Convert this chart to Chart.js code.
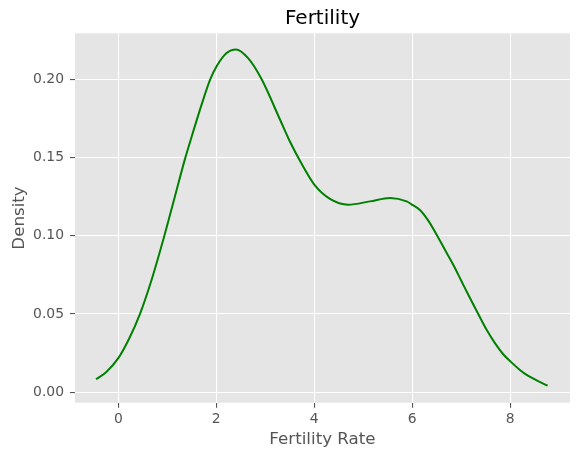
<!DOCTYPE html>
<html>
<head>
<meta charset="utf-8">
<script src="https://cdn.jsdelivr.net/npm/chart.js@4"></script>
<style>
  body { margin: 0; background: #fff; }
</style>
</head>
<body>
<canvas id="kdeChart" width="580" height="460"></canvas>
<script>
// KDE curve
const fertilityRate = [-0.455, -0.25, 0, 0.22, 0.443, 0.68, 0.94, 1.15, 1.36, 1.53, 1.70, 1.87, 2.01, 2.21, 2.40, 2.65, 2.926, 3.30, 3.50, 3.75, 4.0, 4.32, 4.694, 5.137, 5.545, 5.886, 6.0, 6.157, 6.327, 6.498, 6.667, 6.837, 7.008, 7.178, 7.347, 7.518, 7.688, 7.857, 8.008, 8.198, 8.335, 8.763];
const density = [0.0083, 0.0128, 0.0218, 0.0342, 0.0501, 0.0719, 0.100, 0.1245, 0.149, 0.1667, 0.1838, 0.1995, 0.2085, 0.2168, 0.2191, 0.2135, 0.200, 0.1743, 0.1604, 0.1455, 0.1327, 0.1236, 0.1199, 0.122, 0.1242, 0.122, 0.1198, 0.1165, 0.1097, 0.1007, 0.0911, 0.0815, 0.0708, 0.0602, 0.050, 0.0399, 0.0314, 0.0243, 0.0196, 0.0143, 0.0111, 0.0042];
const xTicks = [0, 2, 4, 6, 8];
const yTicks = [0, 0.05, 0.10, 0.15, 0.20];
const chartTitle = 'Fertility';

const points = fertilityRate.map((x, i) => ({x: x, y: density[i]}));

// grey panel behind the plot, and the title centred over it
const panel = {
  id: 'panel',
  beforeDraw(chart) {
    const a = chart.chartArea;
    const c = chart.ctx;
    c.save();
    c.fillStyle = '#E5E5E5';
    c.fillRect(a.left, a.top, a.right - a.left, a.bottom - a.top);
    c.restore();
  },
  afterDraw(chart) {
    const a = chart.chartArea;
    const c = chart.ctx;
    c.save();
    c.fillStyle = '#000';
    c.font = '20px "DejaVu Sans"';
    c.textAlign = 'center';
    c.textBaseline = 'middle';
    c.fillText(chartTitle, (a.left + a.right) / 2, 19);
    c.restore();
  }
};

const ctx = document.getElementById('kdeChart');
const myChart = new Chart(ctx, {
  type: 'line',
  data: {
    datasets: [{
      label: 'Fertility',
      data: points,
      borderColor: 'green',
      borderWidth: 2,
      pointRadius: 0,
      fill: false,
      cubicInterpolationMode: 'monotone'
    }]
  },
  options: {
    responsive: false,
    animation: false,
    devicePixelRatio: 1,
    layout: { padding: { left: 0, right: 10, top: 33.3, bottom: 0 } },
    plugins: {
      legend: { display: false },
      tooltip: { enabled: false },
      title: { display: false }
    },
    scales: {
      x: {
        type: 'linear',
        min: -0.884,
        max: 9.22,
        afterBuildTicks: scale => { scale.ticks = xTicks.map(v => ({value: v})); },
        afterFit: scale => { scale.height = 57.3; },
        border: { display: false },
        grid: { color: '#fff', lineWidth: 1.1, tickColor: '#555', tickLength: 5 },
        ticks: {
          color: '#555',
          padding: 3,
          maxRotation: 0,
          font: { family: 'DejaVu Sans', size: 13.9 },
          callback: v => String(v)
        },
        title: {
          display: true,
          text: 'Fertility Rate',
          color: '#555',
          font: { family: 'DejaVu Sans', size: 16.7 },
          padding: { top: 10, bottom: 10 }
        }
      },
      y: {
        type: 'linear',
        min: -0.00666,
        max: 0.2294,
        afterBuildTicks: scale => { scale.ticks = yTicks.map(v => ({value: v})); },
        afterFit: scale => { scale.width = 75; },
        border: { display: false },
        grid: { color: '#fff', lineWidth: 1.1, tickColor: '#555', tickLength: 5 },
        ticks: {
          color: '#555',
          padding: 6,
          font: { family: 'DejaVu Sans', size: 13.9 },
          callback: v => v.toFixed(2)
        },
        title: {
          display: true,
          text: 'Density',
          color: '#555',
          font: { family: 'DejaVu Sans', size: 16.7 },
          padding: { top: 10, bottom: 10 }
        }
      }
    }
  },
  plugins: [panel]
});
</script>
</body>
</html>
